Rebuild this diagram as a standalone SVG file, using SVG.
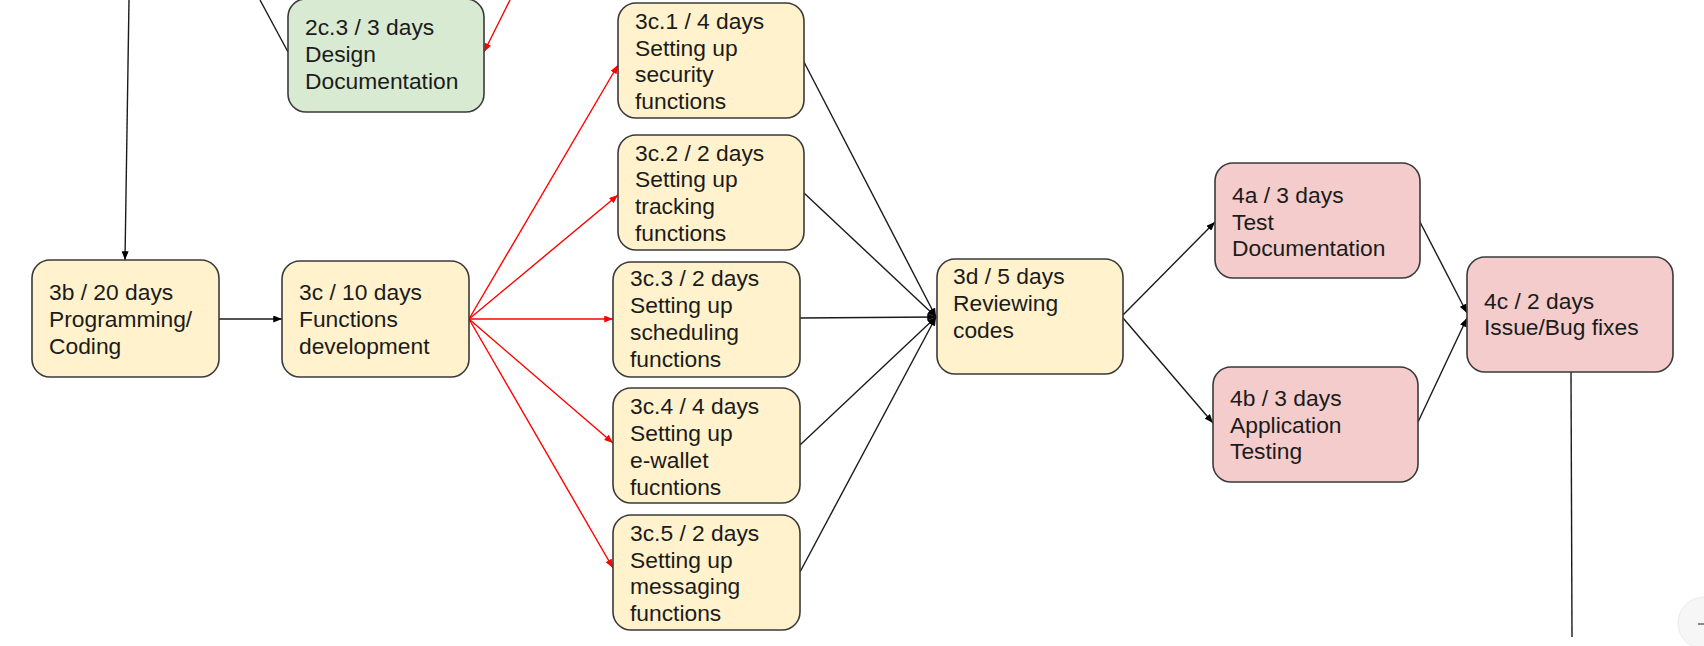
<svg xmlns="http://www.w3.org/2000/svg" width="1704" height="646" viewBox="0 0 1704 646">
<defs>
<marker id="ab" viewBox="0 0 10 8" refX="10" refY="4" markerWidth="9" markerHeight="7" markerUnits="userSpaceOnUse" orient="auto">
<path d="M0,0 L10,4 L0,8 Z" fill="#000"/>
</marker>
<marker id="ar" viewBox="0 0 10 8" refX="10" refY="4" markerWidth="9" markerHeight="7" markerUnits="userSpaceOnUse" orient="auto">
<path d="M0,0 L10,4 L0,8 Z" fill="#ff0000"/>
</marker>
</defs>
<style>
.box{stroke:#3a3a3a;stroke-width:1.6}
.y{fill:#fff2cc}
.g{fill:#d9ead3}
.p{fill:#f4cccc}
text{font-family:"Liberation Sans",Arial,sans-serif;font-size:22.8px;fill:#1b1b1b}
.k{stroke:#1a1a1a;stroke-width:1.4;fill:none}
.r{stroke:#ff0000;stroke-width:1.4;fill:none}
</style>
<rect width="1704" height="646" fill="#ffffff"/>
<g id="connectors">
<line class="k" x1="129" y1="0" x2="125" y2="260" marker-end="url(#ab)"/>
<line class="k" x1="260" y1="0" x2="288" y2="52"/>
<line class="r" x1="510" y1="0" x2="484" y2="52" marker-end="url(#ar)"/>
<line class="k" x1="219" y1="319" x2="282" y2="319" marker-end="url(#ab)"/>
<line class="r" x1="469" y1="319" x2="618" y2="65" marker-end="url(#ar)"/>
<line class="r" x1="469" y1="319" x2="618" y2="195" marker-end="url(#ar)"/>
<line class="r" x1="469" y1="319" x2="613" y2="319" marker-end="url(#ar)"/>
<line class="r" x1="469" y1="319" x2="613" y2="443" marker-end="url(#ar)"/>
<line class="r" x1="469" y1="319" x2="613" y2="568" marker-end="url(#ar)"/>
<line class="k" x1="804" y1="62" x2="936" y2="317" marker-end="url(#ab)"/>
<line class="k" x1="804" y1="193" x2="936" y2="317" marker-end="url(#ab)"/>
<line class="k" x1="800" y1="318" x2="936" y2="317" marker-end="url(#ab)"/>
<line class="k" x1="800" y1="445" x2="936" y2="317" marker-end="url(#ab)"/>
<line class="k" x1="800" y1="572" x2="936" y2="317" marker-end="url(#ab)"/>
<line class="k" x1="1123" y1="315" x2="1215" y2="222" marker-end="url(#ab)"/>
<line class="k" x1="1123" y1="318" x2="1213" y2="423" marker-end="url(#ab)"/>
<line class="k" x1="1420" y1="222" x2="1467" y2="313" marker-end="url(#ab)"/>
<line class="k" x1="1418" y1="422" x2="1467" y2="318" marker-end="url(#ab)"/>
<line class="k" x1="1571" y1="372" x2="1572" y2="637"/>
</g>
<g id="n2c3">
<rect class="box g" x="288" y="-1" width="196" height="113" rx="18"/>
<text x="305" y="35">2c.3 / 3 days</text>
<text x="305" y="62">Design</text>
<text x="305" y="89">Documentation</text>
</g>
<g id="n3b">
<rect class="box y" x="32" y="260" width="187" height="117" rx="18"/>
<text x="49" y="300">3b / 20 days</text>
<text x="49" y="327">Programming/</text>
<text x="49" y="354">Coding</text>
</g>
<g id="n3c">
<rect class="box y" x="282" y="261" width="187" height="116" rx="18"/>
<text x="299" y="300">3c / 10 days</text>
<text x="299" y="327">Functions</text>
<text x="299" y="354">development</text>
</g>
<g id="n3c1">
<rect class="box y" x="618" y="3" width="186" height="115" rx="18"/>
<text x="635" y="29">3c.1 / 4 days</text>
<text x="635" y="56">Setting up</text>
<text x="635" y="82">security</text>
<text x="635" y="109">functions</text>
</g>
<g id="n3c2">
<rect class="box y" x="618" y="135" width="186" height="115" rx="18"/>
<text x="635" y="161">3c.2 / 2 days</text>
<text x="635" y="187">Setting up</text>
<text x="635" y="214">tracking</text>
<text x="635" y="241">functions</text>
</g>
<g id="n3c3">
<rect class="box y" x="613" y="262" width="187" height="115" rx="18"/>
<text x="630" y="286">3c.3 / 2 days</text>
<text x="630" y="313">Setting up</text>
<text x="630" y="340">scheduling</text>
<text x="630" y="367">functions</text>
</g>
<g id="n3c4">
<rect class="box y" x="613" y="388" width="187" height="115" rx="18"/>
<text x="630" y="414">3c.4 / 4 days</text>
<text x="630" y="441">Setting up</text>
<text x="630" y="468">e-wallet</text>
<text x="630" y="495">fucntions</text>
</g>
<g id="n3c5">
<rect class="box y" x="613" y="515" width="187" height="115" rx="18"/>
<text x="630" y="541">3c.5 / 2 days</text>
<text x="630" y="568">Setting up</text>
<text x="630" y="594">messaging</text>
<text x="630" y="621">functions</text>
</g>
<g id="n3d">
<rect class="box y" x="937" y="259" width="186" height="115" rx="18"/>
<text x="953" y="284">3d / 5 days</text>
<text x="953" y="311">Reviewing</text>
<text x="953" y="338">codes</text>
</g>
<g id="n4a">
<rect class="box p" x="1215" y="163" width="205" height="115" rx="18"/>
<text x="1232" y="203">4a / 3 days</text>
<text x="1232" y="230">Test</text>
<text x="1232" y="256">Documentation</text>
</g>
<g id="n4b">
<rect class="box p" x="1213" y="367" width="205" height="115" rx="18"/>
<text x="1230" y="406">4b / 3 days</text>
<text x="1230" y="433">Application</text>
<text x="1230" y="459">Testing</text>
</g>
<g id="n4c">
<rect class="box p" x="1467" y="257" width="206" height="115" rx="18"/>
<text x="1484" y="309">4c / 2 days</text>
<text x="1484" y="335">Issue/Bug fixes</text>
</g>
<g id="zoom-button">
<circle cx="1704" cy="623" r="26" fill="#f6f6f6" stroke="#ebebeb" stroke-width="1"/>
<line x1="1698" y1="624" x2="1704" y2="624" stroke="#8a8a8a" stroke-width="2"/>
</g>
</svg>
